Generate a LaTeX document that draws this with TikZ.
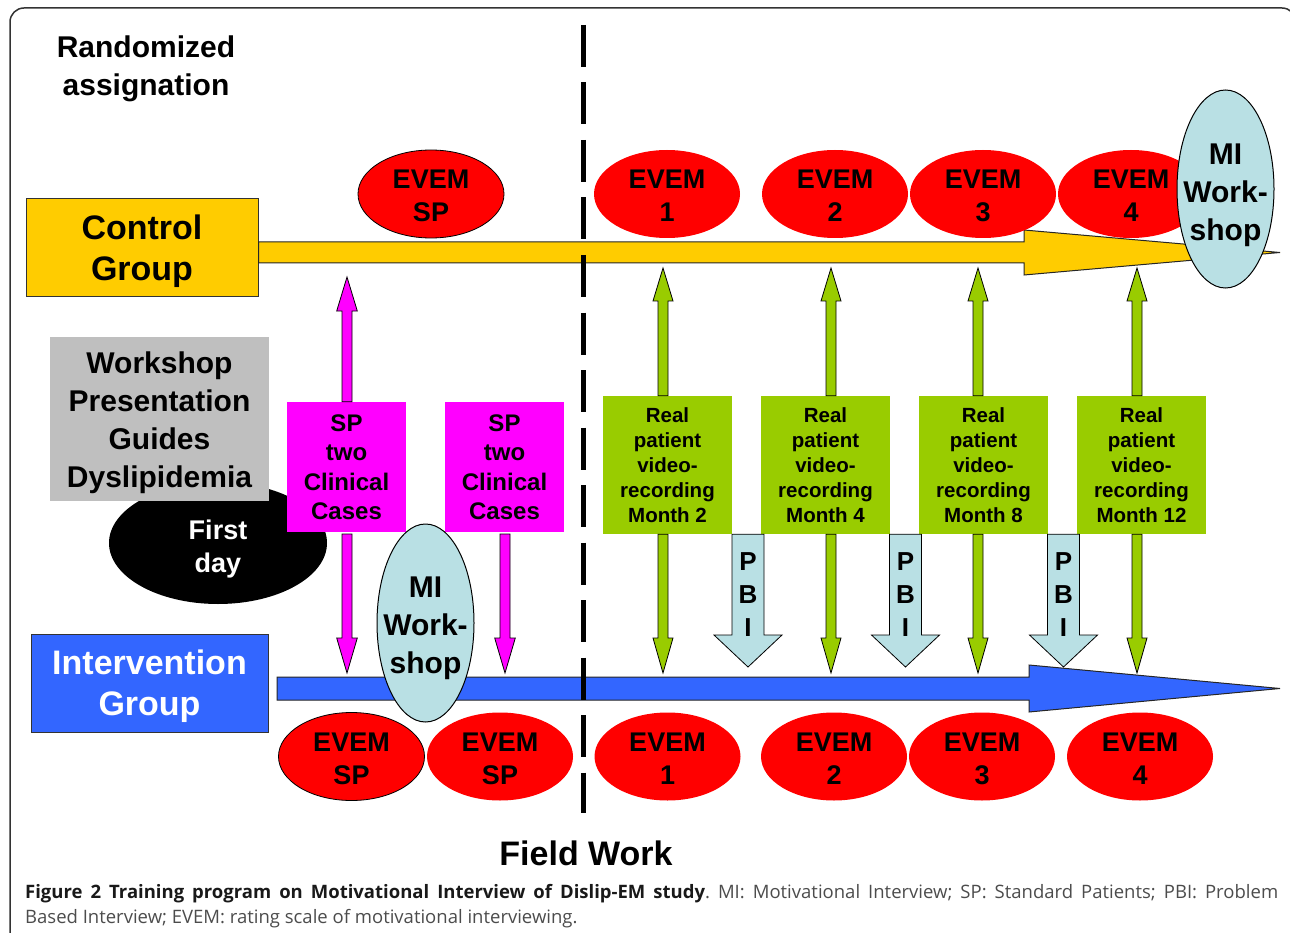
\documentclass[tikz,border=0pt]{standalone}
\usepackage{fontspec}
\setmainfont{Liberation Sans}
\newfontfamily\capfont{Open Sans}
\usetikzlibrary{shapes.geometric,calc}

\definecolor{gold}{HTML}{FFCC00}
\definecolor{iblue}{HTML}{3366FF}
\definecolor{evred}{HTML}{FF0000}
\definecolor{mag}{HTML}{FF00FF}
\definecolor{grn}{HTML}{99CC00}
\definecolor{lblue}{HTML}{B9E0E4}
\definecolor{gbox}{HTML}{BFBFBF}

\newcommand\fsz[2]{\fontsize{#1}{#2}\selectfont}
% vertical block arrow: #1 style, #2 start node anchor (y), #3 tip coordinate, #4 half shaft, #5 half head, #6 head length
\newcommand\vba[6]{%
  \path[#1] let \p1=(#2), \p2=(#3), \n1={sign(\y2-\y1)}, \p3=({\x2},{\y2-\n1*#6pt}) in
    ({\x2-#4pt},{\y1}) -- ({\x2-#4pt},{\y3}) -- ({\x2-#5pt},{\y3}) -- (\p2)
    -- ({\x2+#5pt},{\y3}) -- ({\x2+#4pt},{\y3}) -- ({\x2+#4pt},{\y1}) -- cycle;}

\tikzset{
  evem/.style={ellipse, fill=evred, minimum width=146pt, minimum height=88pt, inner sep=0pt},
  evemb/.style={evem, draw=black, line width=0.8pt},
  evtext/.style={font=\fsz{27}{33}\bfseries, align=center, inner sep=0pt, yshift=-2pt},
  miell/.style={ellipse, fill=lblue, draw=black, line width=1pt, minimum width=97pt,
    minimum height=198pt, inner sep=0pt},
  mitext/.style={font=\fsz{30}{38}\bfseries, align=center, inner sep=0pt},
  grnbox/.style={fill=grn, minimum width=129pt, minimum height=138pt, inner sep=0pt,
    font=\fsz{20.5}{25}\bfseries, align=center},
  magbox/.style={fill=mag, minimum width=119pt, minimum height=130pt, inner sep=0pt,
    font=\fsz{24}{29.5}\bfseries, align=center},
  grpbox/.style={draw=black!80, line width=1pt, inner sep=0pt},
  grptext/.style={inner sep=0pt, align=center, font=\fsz{34}{41}\bfseries},
  bigtext/.style={inner sep=0pt, align=center, font=\fsz{30}{38}\bfseries},
  barline/.style={draw=black!85, line width=1pt},
  magarrow/.style={fill=mag, draw=black, line width=0.8pt},
  grnarrow/.style={fill=grn, draw=black, line width=0.8pt},
  pbiarrow/.style={fill=lblue, draw=black, line width=0.8pt},
  pbitext/.style={font=\fsz{26}{33}\bfseries, align=center, inner sep=0pt},
}

\begin{document}
\frenchspacing
\begin{tikzpicture}[x=1pt,y=-1pt]
\useasboundingbox (0,0) rectangle (1290,933);

% frame
\draw[line width=1.5pt, draw=black!80, rounded corners=14pt] (10,960) -- (10,8) -- (1296,8) -- (1296,960);

% title
\node[bigtext] (rand) at (146,69) {Randomized\\assignation};

% group boxes
\node[grpbox, fill=gold, minimum width=232pt, minimum height=98pt] (ctrl) at (142,248) {};
\node[grptext] (ctrlt) at (142,251) {Control\\Group};
\node[grpbox, fill=iblue, minimum width=237pt, minimum height=98pt] (intv) at (149.5,683.5) {};
\node[grptext, text=white] (intvt) at (149.5,686.5) {Intervention\\Group};

% timeline arrows
\coordinate (ctip) at (1280,252.5);
\coordinate (itip) at (1280,688.5);
\draw[barline, fill=gold] (ctrl.east |- 0,242) -- (1024,242) -- (1024,230) -- (ctip)
  -- (1024,275) -- (1024,263) -- (ctrl.east |- 0,263) -- cycle;
\draw[barline, fill=iblue] (277,677) -- (1029,677) -- (1029,665) -- (itip)
  -- (1029,712) -- (1029,700) -- (277,700) -- cycle;

% first day and workshop box
\node[ellipse, fill=black, minimum width=218pt, minimum height=122pt, inner sep=0pt] (fd) at (218,543) {};
\node[fill=gbox, minimum width=219pt, minimum height=164pt, inner sep=0pt] (wk) at (159.5,419) {};
\node[bigtext] (wkt) at (159.5,423) {Workshop\\Presentation\\Guides\\Dyslipidemia};
\node[text=white, font=\fsz{27}{33}\bfseries, align=center, inner sep=0pt] (fdt) at (218,549) {First\\day};

% SP boxes
\node[magbox] (sp1) at (346.5,467) {SP\\two\\Clinical\\Cases};
\node[magbox] (sp2) at (504.5,467) {SP\\two\\Clinical\\Cases};

% green boxes
\node[grnbox] (g1) at (667.5,465) {Real\\patient\\video-\\recording\\Month 2};
\node[grnbox] (g2) at (825.5,465) {Real\\patient\\video-\\recording\\Month 4};
\node[grnbox] (g3) at (983.5,465) {Real\\patient\\video-\\recording\\Month 8};
\node[grnbox] (g4) at (1141.5,465) {Real\\patient\\video-\\recording\\Month 12};

% arrow tips
\coordinate (sp1u) at (347,277);
\coordinate (sp1d) at (347,673);
\coordinate (sp2d) at (505,673);
\coordinate (g1u) at (663,268);
\coordinate (g2u) at (831,268);
\coordinate (g3u) at (978,268);
\coordinate (g4u) at (1137,268);
\coordinate (g1d) at (663,673);
\coordinate (g2d) at (831,673);
\coordinate (g3d) at (978,673);
\coordinate (g4d) at (1137,673);
\coordinate (p1t) at (748,667);
\coordinate (p2t) at (905.5,667);
\coordinate (p3t) at (1063.5,667);
\coordinate (sp1b) at (346.5,534);
\coordinate (sp2b) at (504.5,534);

% magenta arrows
\vba{magarrow}{sp1.north}{sp1u}{5}{10.3}{34}
\vba{magarrow}{sp1b}{sp1d}{5}{10.3}{35}
\vba{magarrow}{sp2b}{sp2d}{5}{10.3}{35}

% green arrows
\foreach \g in {g1,g2,g3,g4}{
  \vba{grnarrow}{\g.north}{\g u}{5}{10}{33}
  \vba{grnarrow}{\g.south}{\g d}{5}{10}{35}
}

% PBI arrows
\vba{pbiarrow}{g1.south}{p1t}{16}{34}{32}
\vba{pbiarrow}{g2.south}{p2t}{16}{34}{32}
\vba{pbiarrow}{g3.south}{p3t}{16}{34}{32}
\node[pbitext] (pb1) at (748,595) {P\\B\\I};
\node[pbitext] (pb2) at (905.5,595) {P\\B\\I};
\node[pbitext] (pb3) at (1063.5,595) {P\\B\\I};

% dashed divider
\coordinate (dtop) at (583,25);
\coordinate (dbot) at (583,813);
\draw[line width=5pt, dash pattern=on 42pt off 15.5pt] (dtop) -- (dbot);

% EVEM ellipses top
\node[evemb, label={[evtext]center:{EVEM\\SP}}] (esp) at (431,194) {};
\node[evem, label={[evtext]center:{EVEM\\1}}] (e1) at (667,194) {};
\node[evem, label={[evtext]center:{EVEM\\2}}] (e2) at (835,194) {};
\node[evem, label={[evtext]center:{EVEM\\3}}] (e3) at (983,194) {};
\node[evem, label={[evtext]center:{EVEM\\4}}] (e4) at (1131,194) {};
\node[miell] (mi1) at (1225.5,189) {};
\node[mitext] (mi1t) at (1225.5,195) {MI\\Work-\\shop};

% bottom
\node[miell] (mi2) at (425.5,623) {};
\node[mitext] (mi2t) at (425.5,628) {MI\\Work-\\shop};
\node[evemb, label={[evtext]center:{EVEM\\SP}}] (bsp1) at (351.5,756.5) {};
\node[evem, label={[evtext]center:{EVEM\\SP}}] (bsp2) at (500,756.5) {};
\node[evem, label={[evtext]center:{EVEM\\1}}] (b1) at (667.5,756.5) {};
\node[evem, label={[evtext]center:{EVEM\\2}}] (b2) at (834,756.5) {};
\node[evem, label={[evtext]center:{EVEM\\3}}] (b3) at (982,756.5) {};
\node[evem, label={[evtext]center:{EVEM\\4}}] (b4) at (1140,756.5) {};

% field work
\node[font=\fsz{34}{40}\bfseries] (fw) at (586,853) {Field Work};

% caption
\node[anchor=base west, inner sep=0pt, font=\capfont\fsz{18.5}{22}] (cap1) at (25,898)
  {\makebox[1253pt][s]{\textcolor{black!90}{\bfseries Figure 2 Training program on Motivational Interview of Dislip-EM study}\textcolor{black!70}{. MI: Motivational Interview; SP: Standard Patients; PBI: Problem}}};
\node[anchor=base west, inner sep=0pt, font=\capfont\fsz{18.5}{22}, text=black!70] (cap2) at (25,923)
  {Based Interview; EVEM: rating scale of motivational interviewing.};
\end{tikzpicture}
\end{document}
